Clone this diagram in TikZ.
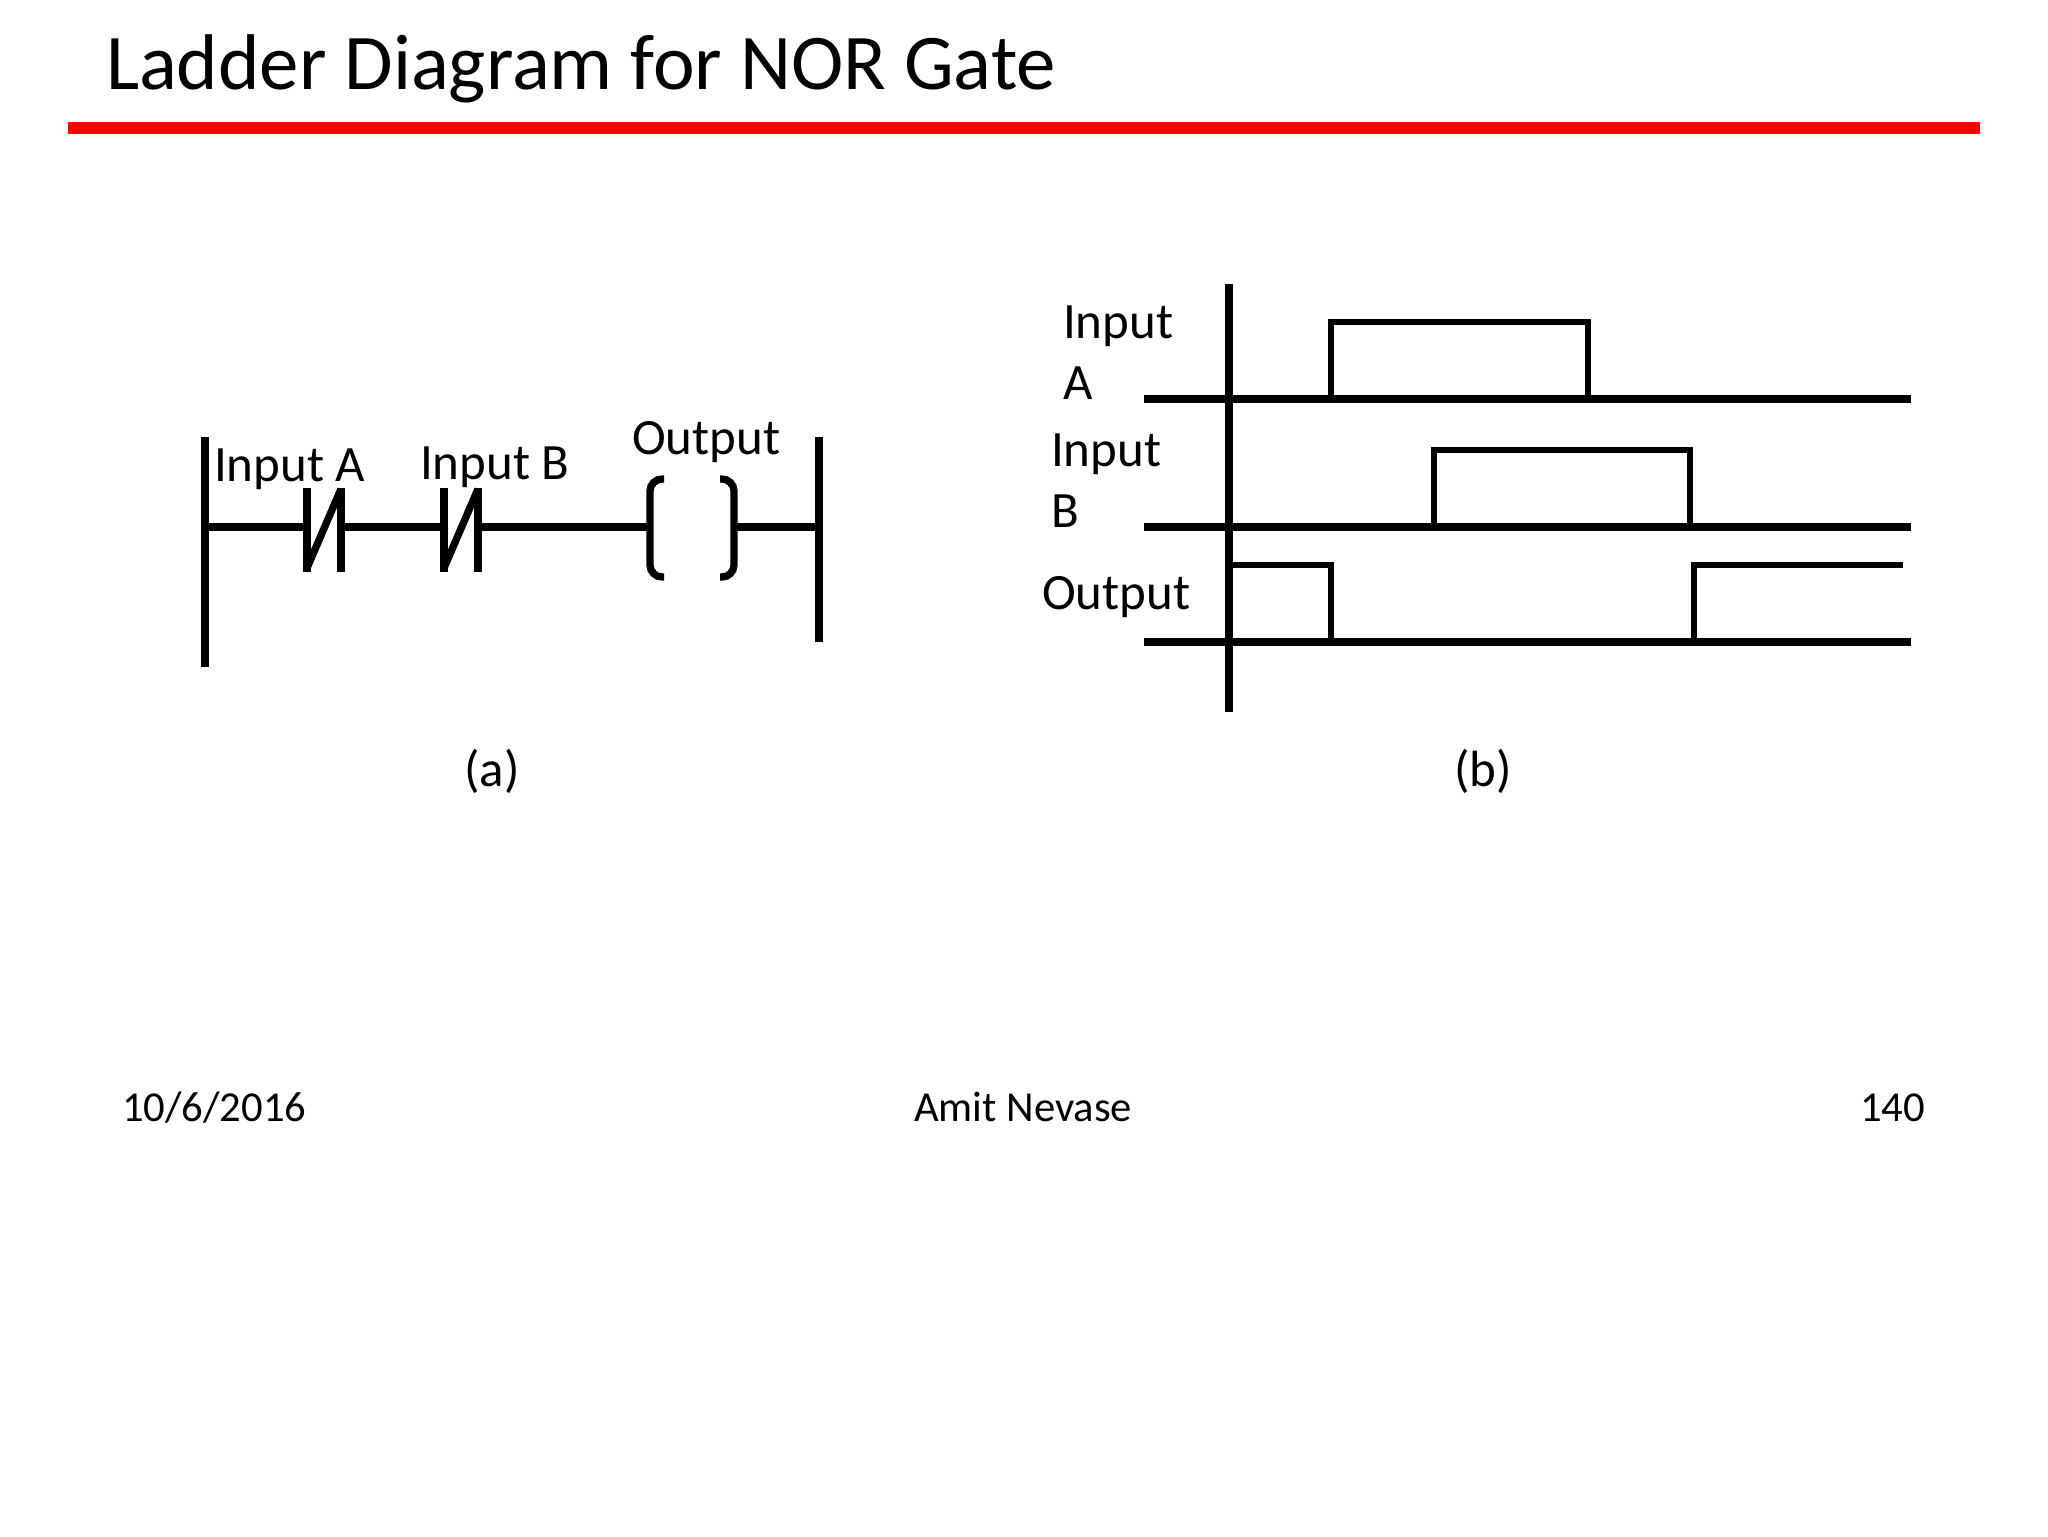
\documentclass[tikz,border=0pt]{standalone}
\usepackage{fontspec}
\setmainfont{Carlito}
\tikzset{
  wire/.style={line width=5.5pt},
  thin wire/.style={line width=5pt},
  lbl/.style={anchor=base west,inner sep=0pt,outer sep=0pt,text=black},
  ctr/.style={anchor=base,inner sep=0pt,outer sep=0pt,text=black},
  title font/.style={font=\fontsize{59.2}{64}\selectfont},
  body font/.style={font=\fontsize{38.2}{42}\selectfont},
  foot font/.style={font=\fontsize{32}{36}\selectfont},
}
\begin{document}
\begin{tikzpicture}[x=0.75pt,y=-0.75pt]
\useasboundingbox (0,0) rectangle (2048,1536);
\fill[white] (0,0) rectangle (2048,1536);

% title and rule
\node[lbl,title font] (title) at (106,89) {Ladder Diagram for NOR Gate};
\fill[red] (68,122) rectangle (1980,134);

% (a) ladder rung
\coordinate (railLt) at (205,437);
\coordinate (railLb) at (205,667);
\coordinate (railRt) at (819,437);
\coordinate (railRb) at (819,642);
\coordinate (rungL) at (205,527);
\coordinate (rungR) at (819,527);
\coordinate (aIn) at (307,527);
\coordinate (aOut) at (341,527);
\coordinate (bIn) at (444,527);
\coordinate (bOut) at (478,527);
\coordinate (coilIn) at (650,527);
\coordinate (coilOut) at (734,527);

\draw[wire] (railLt) -- (railLb);
\draw[wire] (railRt) -- (railRb);
\draw[wire] (rungL) -- (aIn);
\draw[wire] (aOut) -- (bIn);
\draw[wire] (bOut) -- (coilIn);
\draw[wire] (coilOut) -- (rungR);

% normally closed contacts
\draw[wire] (307,488) -- (307,572);
\draw[wire] (341,488) -- (341,572);
\draw[wire] (307,568) -- (341,489);
\draw[wire] (444,488) -- (444,572);
\draw[wire] (478,488) -- (478,572);
\draw[wire] (444,568) -- (478,489);

% output coil
\draw[wire,rounded corners=9pt] (664,479) -- (650,479) -- (650,577) -- (664,577);
\draw[wire,rounded corners=9pt] (720,479) -- (734,479) -- (734,577) -- (720,577);

\node[lbl,body font] (inA) at (214,481) {Input A};
\node[lbl,body font] (inB) at (420,479) {Input B};
\node[lbl,body font] (outA) at (632,454) {Output};
\node[ctr,body font] (capA) at (492,786) {(a)};

% (b) timing chart
\coordinate (axT) at (1229,284);
\coordinate (axB) at (1229,712);
\draw[wire] (axT) -- (axB);

\coordinate (a0) at (1144,399);
\coordinate (a1) at (1911,399);
\coordinate (b0) at (1144,527);
\coordinate (b1) at (1911,527);
\coordinate (c0) at (1144,642);
\coordinate (c1) at (1911,642);
\draw[wire] (a0) -- (a1);
\draw[wire] (b0) -- (b1);
\draw[wire] (c0) -- (c1);

\draw[thin wire] (1331,399) -- (1331,322) -- (1588,322) -- (1588,399);
\draw[thin wire] (1434,527) -- (1434,450) -- (1690,450) -- (1690,527);
\draw[thin wire] (1229,565) -- (1331,565) -- (1331,642);
\draw[thin wire] (1694,642) -- (1694,565) -- (1903,565);

\node[lbl,body font] (tA1) at (1063,338) {Input};
\node[lbl,body font] (tA2) at (1063,399) {A};
\node[lbl,body font] (tB1) at (1051,466) {Input};
\node[lbl,body font] (tB2) at (1051,527) {B};
\node[lbl,body font] (tC) at (1042,609) {Output};
\node[ctr,body font] (capB) at (1483,786) {(b)};

% footer
\node[lbl,foot font] (date) at (122,1121) {10/6/2016};
\node[lbl,foot font] (auth) at (914,1121) {Amit Nevase};
\node[lbl,foot font] (page) at (1860,1121) {140};
\end{tikzpicture}
\end{document}
